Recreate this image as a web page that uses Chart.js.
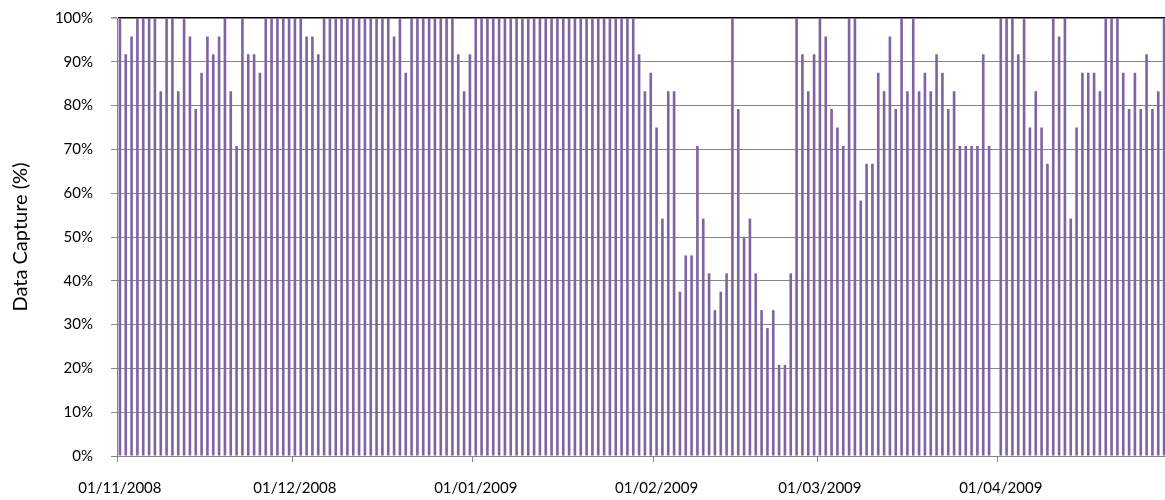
<!DOCTYPE html>
<html>
<head>
<meta charset="utf-8">
<script src="https://cdn.jsdelivr.net/npm/chart.js@4"></script>
<style>
  html, body { margin: 0; padding: 0; background: #fff; overflow: hidden; }
  #wrap { width: 1165px; height: 500px; overflow: hidden; }
</style>
</head>
<body>
<div id="wrap"><canvas id="c" width="1167" height="500"></canvas></div>
<script>
// Daily data capture (%) from 01/11/2008, one value per day
const startDate = [2008, 10, 1]; // year, monthIndex, day
const novValues = [100, 91.7, 95.8, 100, 100, 100, 100, 83.3, 100, 100,
                   83.3, 100, 95.8, 79.2, 87.5, 95.8, 91.7, 95.8, 100, 83.3,
                   70.8, 100, 91.7, 91.7, 87.5, 100, 100, 100, 100, 100];
const decValues = [100, 100, 95.8, 95.8, 91.7, 100, 100, 100, 100, 100,
                   100, 100, 100, 100, 100, 100, 100, 95.8, 100, 87.5,
                   100, 100, 100, 100, 100, 100, 100, 100, 91.7, 83.3, 91.7];
const janValues = [100, 100, 100, 100, 100, 100, 100, 100, 100, 100,
                   100, 100, 100, 100, 100, 100, 100, 100, 100, 100,
                   100, 100, 100, 100, 100, 100, 100, 100, 91.7, 83.3, 87.5];
const febValues = [75, 54.2, 83.3, 83.3, 37.5, 45.8, 45.8, 70.8, 54.2, 41.7,
                   33.3, 37.5, 41.7, 100, 79.2, 50, 54.2, 41.7, 33.3, 29.2,
                   33.3, 20.8, 20.8, 41.7, 100, 91.7, 83.3, 91.7];
const marValues = [100, 95.8, 79.2, 75, 70.8, 100, 100, 58.3, 66.7, 66.7,
                   87.5, 83.3, 95.8, 79.2, 100, 83.3, 100, 83.3, 87.5, 83.3,
                   91.7, 87.5, 79.2, 83.3, 70.8, 70.8, 70.8, 70.8, 91.7, 70.8, 0];
const aprValues = [100, 100, 100, 91.7, 100, 75, 83.3, 75, 66.7, 100,
                   95.8, 100, 54.2, 75, 87.5, 87.5, 87.5, 83.3, 100, 100,
                   100, 87.5, 79.2, 87.5, 79.2, 91.7, 79.2, 83.3, 100];
const yTicks = [0, 10, 20, 30, 40, 50, 60, 70, 80, 90, 100];
const yTitle = 'Data Capture (%)';

const values = [].concat(novValues, decValues, janValues, febValues, marValues, aprValues);

function pad(n) { return (n < 10 ? '0' : '') + n; }
const categories = [];
const monthStart = [];
for (let i = 0; i < values.length; i++) {
  const d = new Date(startDate[0], startDate[1], startDate[2] + i);
  categories.push(pad(d.getDate()) + '/' + pad(d.getMonth() + 1) + '/' + d.getFullYear());
  monthStart.push(d.getDate() === 1);
}

const FONT = "Lato, 'Open Sans', sans-serif";
const GRID = '#868686';

new Chart(document.getElementById('c'), {
  type: 'bar',
  data: {
    labels: categories,
    datasets: [{
      data: values,
      backgroundColor: '#8064A2',
      borderWidth: 0,
      barPercentage: 0.45,
      categoryPercentage: 1.0
    }]
  },
  options: {
    responsive: false,
    animation: false,
    devicePixelRatio: 1,
    layout: { padding: { top: 18, right: 0, left: 0, bottom: 0 } },
    plugins: { legend: { display: false }, tooltip: { enabled: false } },
    scales: {
      x: {
        afterFit: (scale) => {
          scale.height = 44;
          scale.paddingLeft = 0;
          scale.paddingRight = 0;
        },
        grid: {
          offset: true,
          drawOnChartArea: false,
          drawTicks: true,
          tickLength: 6,
          color: (ctx) => (ctx.tick && monthStart[ctx.index]) ? GRID : 'rgba(0,0,0,0)'
        },
        border: { display: true, color: GRID, width: 1 },
        ticks: {
          autoSkip: false,
          maxRotation: 0,
          minRotation: 0,
          padding: 17,
          color: '#000',
          font: { family: FONT, size: 15 },
          callback: function (v, i) { return monthStart[i] ? categories[i] : ''; }
        }
      },
      y: {
        min: 0,
        max: 100,
        afterBuildTicks: (scale) => { scale.ticks = yTicks.map(v => ({ value: v })); },
        afterFit: (scale) => {
          scale.width = 117;
          scale.paddingTop = 0;
          scale.paddingBottom = 0;
        },
        grid: {
          color: (ctx) => (ctx.tick && ctx.tick.value === 100) ? '#000' : GRID,
          lineWidth: (ctx) => (ctx.tick && ctx.tick.value === 100) ? 1.5 : 1,
          tickColor: GRID,
          tickLength: 6,
          drawTicks: true
        },
        border: { display: true, color: GRID, width: 1 },
        ticks: {
          padding: 18,
          color: '#000',
          font: { family: FONT, size: 15 },
          callback: (v) => v + '%'
        },
        title: {
          display: true,
          text: yTitle,
          color: '#000',
          font: { family: FONT, size: 20 },
          padding: { top: 9, bottom: 0 }
        }
      }
    }
  }
});
</script>
</body>
</html>
